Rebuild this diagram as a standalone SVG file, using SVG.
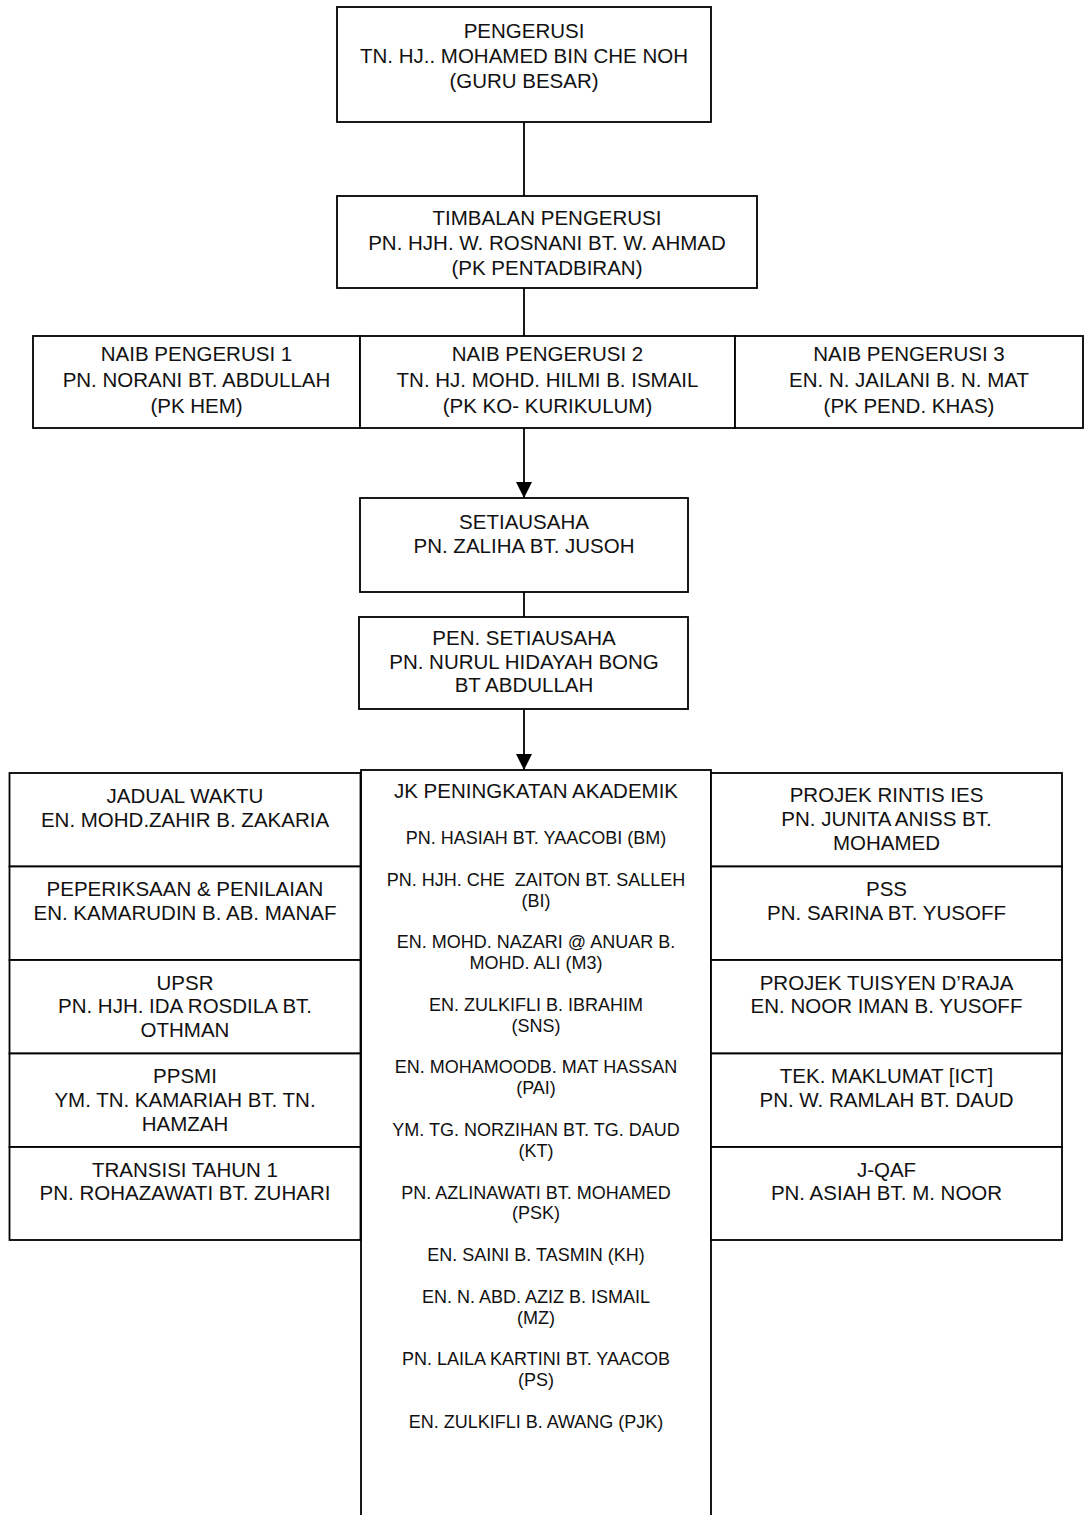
<svg xmlns="http://www.w3.org/2000/svg" width="1085" height="1515" viewBox="0 0 1085 1515">
<defs>
<style>
.box{fill:#fff;stroke:#000;stroke-width:1.8}
.t{font-family:"Liberation Sans",Arial,sans-serif;font-size:20.5px;fill:#111;text-anchor:middle}
.s{font-family:"Liberation Sans",Arial,sans-serif;font-size:18px;fill:#111;text-anchor:middle}
.ln{stroke:#000;stroke-width:1.8;fill:none}
</style>
<marker id="ah" markerWidth="16" markerHeight="16" viewBox="0 0 16 16" refX="16" refY="8" orient="auto" markerUnits="userSpaceOnUse">
<path d="M0,0 L16,8 L0,16 Z" fill="#000"/>
</marker>
</defs>
<rect width="1085" height="1515" fill="#fff"/>
<g id="connectors">
<line class="ln" x1="524" y1="122" x2="524" y2="196"/>
<line class="ln" x1="524" y1="288" x2="524" y2="336"/>
<line class="ln" x1="524" y1="428" x2="524" y2="498" marker-end="url(#ah)"/>
<line class="ln" x1="524" y1="592" x2="524" y2="617"/>
<line class="ln" x1="524" y1="709" x2="524" y2="770" marker-end="url(#ah)"/>
</g>
<g id="pengerusi">
<rect class="box" x="337" y="7" width="374" height="115"/>
<text class="t" x="524" y="38">PENGERUSI</text>
<text class="t" x="524" y="63">TN. HJ.. MOHAMED BIN CHE NOH</text>
<text class="t" x="524" y="88">(GURU BESAR)</text>
</g>
<g id="timbalan">
<rect class="box" x="337" y="196" width="420" height="92"/>
<text class="t" x="547" y="225">TIMBALAN PENGERUSI</text>
<text class="t" x="547" y="250">PN. HJH. W. ROSNANI BT. W. AHMAD</text>
<text class="t" x="547" y="275">(PK PENTADBIRAN)</text>
</g>
<g id="naib1">
<rect class="box" x="33" y="336" width="327" height="92"/>
<text class="t" x="196.5" y="361">NAIB PENGERUSI 1</text>
<text class="t" x="196.5" y="387">PN. NORANI BT. ABDULLAH</text>
<text class="t" x="196.5" y="413">(PK HEM)</text>
</g>
<g id="naib2">
<rect class="box" x="360" y="336" width="375" height="92"/>
<text class="t" x="547.5" y="361">NAIB PENGERUSI 2</text>
<text class="t" x="547.5" y="387">TN. HJ. MOHD. HILMI B. ISMAIL</text>
<text class="t" x="547.5" y="413">(PK KO- KURIKULUM)</text>
</g>
<g id="naib3">
<rect class="box" x="735" y="336" width="348" height="92"/>
<text class="t" x="909" y="361">NAIB PENGERUSI 3</text>
<text class="t" x="909" y="387">EN. N. JAILANI B. N. MAT</text>
<text class="t" x="909" y="413">(PK PEND. KHAS)</text>
</g>
<g id="setiausaha">
<rect class="box" x="360" y="498" width="328" height="94"/>
<text class="t" x="524" y="529">SETIAUSAHA</text>
<text class="t" x="524" y="553">PN. ZALIHA BT. JUSOH</text>
</g>
<g id="pen-setiausaha">
<rect class="box" x="359" y="617" width="329" height="92"/>
<text class="t" x="524" y="645">PEN. SETIAUSAHA</text>
<text class="t" x="524" y="668.5">PN. NURUL HIDAYAH BONG</text>
<text class="t" x="524" y="692">BT ABDULLAH</text>
</g>
<g id="jk-akademik">
<rect class="box" x="361" y="770" width="350" height="780"/>
<text class="t" x="536" y="798">JK PENINGKATAN AKADEMIK</text>
<text class="s" x="536" y="844">PN. HASIAH BT. YAACOBI (BM)</text>
<text class="s" x="536" y="885.7" xml:space="preserve">PN. HJH. CHE  ZAITON BT. SALLEH</text>
<text class="s" x="536" y="906.6">(BI)</text>
<text class="s" x="536" y="948.3">EN. MOHD. NAZARI @ ANUAR B.</text>
<text class="s" x="536" y="969.1">MOHD. ALI (M3)</text>
<text class="s" x="536" y="1010.8">EN. ZULKIFLI B. IBRAHIM</text>
<text class="s" x="536" y="1031.7">(SNS)</text>
<text class="s" x="536" y="1073.4">EN. MOHAMOODB. MAT HASSAN</text>
<text class="s" x="536" y="1094.2">(PAI)</text>
<text class="s" x="536" y="1135.9">YM. TG. NORZIHAN BT. TG. DAUD</text>
<text class="s" x="536" y="1156.8">(KT)</text>
<text class="s" x="536" y="1198.5">PN. AZLINAWATI BT. MOHAMED</text>
<text class="s" x="536" y="1219.3">(PSK)</text>
<text class="s" x="536" y="1261">EN. SAINI B. TASMIN (KH)</text>
<text class="s" x="536" y="1302.7">EN. N. ABD. AZIZ B. ISMAIL</text>
<text class="s" x="536" y="1323.6">(MZ)</text>
<text class="s" x="536" y="1365.3">PN. LAILA KARTINI BT. YAACOB</text>
<text class="s" x="536" y="1386.1">(PS)</text>
<text class="s" x="536" y="1427.8">EN. ZULKIFLI B. AWANG (PJK)</text>
</g>
<g id="jadual-waktu">
<rect class="box" x="9.5" y="773" width="351" height="93.5"/>
<text class="t" x="185" y="802.5">JADUAL WAKTU</text>
<text class="t" x="185" y="826.5">EN. MOHD.ZAHIR B. ZAKARIA</text>
</g>
<g id="peperiksaan">
<rect class="box" x="9.5" y="866.5" width="351" height="93.5"/>
<text class="t" x="185" y="896">PEPERIKSAAN &amp; PENILAIAN</text>
<text class="t" x="185" y="919.5">EN. KAMARUDIN B. AB. MANAF</text>
</g>
<g id="upsr">
<rect class="box" x="9.5" y="960" width="351" height="93.5"/>
<text class="t" x="185" y="989.5">UPSR</text>
<text class="t" x="185" y="1013.2">PN. HJH. IDA ROSDILA BT.</text>
<text class="t" x="185" y="1037">OTHMAN</text>
</g>
<g id="ppsmi">
<rect class="box" x="9.5" y="1053.5" width="351" height="93.5"/>
<text class="t" x="185" y="1083">PPSMI</text>
<text class="t" x="185" y="1106.7">YM. TN. KAMARIAH BT. TN.</text>
<text class="t" x="185" y="1130.5">HAMZAH</text>
</g>
<g id="transisi">
<rect class="box" x="9.5" y="1147" width="351" height="93"/>
<text class="t" x="185" y="1176.5">TRANSISI TAHUN 1</text>
<text class="t" x="185" y="1200.2">PN. ROHAZAWATI BT. ZUHARI</text>
</g>
<g id="projek-rintis">
<rect class="box" x="711" y="773" width="351" height="93.5"/>
<text class="t" x="886.5" y="802">PROJEK RINTIS IES</text>
<text class="t" x="886.5" y="826">PN. JUNITA ANISS BT.</text>
<text class="t" x="886.5" y="850">MOHAMED</text>
</g>
<g id="pss">
<rect class="box" x="711" y="866.5" width="351" height="93.5"/>
<text class="t" x="886.5" y="896">PSS</text>
<text class="t" x="886.5" y="919.5">PN. SARINA BT. YUSOFF</text>
</g>
<g id="tuisyen">
<rect class="box" x="711" y="960" width="351" height="93.5"/>
<text class="t" x="886.5" y="989.5">PROJEK TUISYEN D’RAJA</text>
<text class="t" x="886.5" y="1013.2">EN. NOOR IMAN B. YUSOFF</text>
</g>
<g id="ict">
<rect class="box" x="711" y="1053.5" width="351" height="93.5"/>
<text class="t" x="886.5" y="1083">TEK. MAKLUMAT [ICT]</text>
<text class="t" x="886.5" y="1106.7">PN. W. RAMLAH BT. DAUD</text>
</g>
<g id="j-qaf">
<rect class="box" x="711" y="1147" width="351" height="93"/>
<text class="t" x="886.5" y="1176.5">J-QAF</text>
<text class="t" x="886.5" y="1200.2">PN. ASIAH BT. M. NOOR</text>
</g>
</svg>
